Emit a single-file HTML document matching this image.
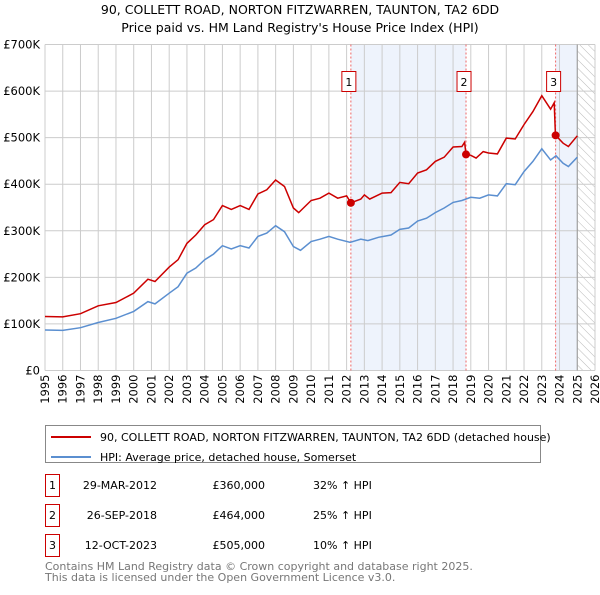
<!DOCTYPE html>
<html><head><meta charset="utf-8"><style>
body{margin:0;background:#fff;font-family:"Liberation Sans","DejaVu Sans",sans-serif;}
svg text{font-family:"DejaVu Sans","Liberation Sans",sans-serif;}
</style></head><body>
<svg id="c" width="600" height="590" xmlns="http://www.w3.org/2000/svg">
<defs><pattern id="hatch" width="6" height="6" patternUnits="userSpaceOnUse" patternTransform="rotate(-45)"><line x1="0" y1="0" x2="0" y2="6" stroke="#bbb" stroke-width="1"/></pattern></defs>
<text x="300" y="14" text-anchor="middle" font-size="12.5">90, COLLETT ROAD, NORTON FITZWARREN, TAUNTON, TA2 6DD</text>
<text x="300" y="32" text-anchor="middle" font-size="12.5">Price paid vs. HM Land Registry's House Price Index (HPI)</text>
<g id="plot"></g>
<g>
<rect x="45.5" y="425.5" width="495" height="37" fill="#fff" stroke="#888"/>
<line x1="51" y1="437" x2="91" y2="437" stroke="#cc0000" stroke-width="2"/>
<text x="100" y="441" font-size="11">90, COLLETT ROAD, NORTON FITZWARREN, TAUNTON, TA2 6DD (detached house)</text>
<line x1="51" y1="457" x2="91" y2="457" stroke="#5b8fd0" stroke-width="2"/>
<text x="100" y="461" font-size="11">HPI: Average price, detached house, Somerset</text>
</g>
<g id="tbl" font-size="11"></g>
<text x="45" y="570" font-size="11" fill="#777">Contains HM Land Registry data © Crown copyright and database right 2025.</text>
<text x="45" y="581" font-size="11" fill="#777">This data is licensed under the Open Government Licence v3.0.</text>
</svg>
<script>
const hpiYears=[1995,1996,1997,1998,1999,2000,2000.8,2001.2,2002,2002.5,2003,2003.5,2004,2004.5,2005,2005.5,2006,2006.5,2007,2007.5,2008,2008.5,2009,2009.4,2010,2010.5,2011,2011.5,2012.2,2012.8,2013.2,2013.8,2014.5,2015,2015.5,2016,2016.5,2017,2017.5,2018,2018.5,2019,2019.5,2020,2020.5,2021,2021.5,2022,2022.5,2023,2023.5,2023.8,2024.2,2024.5,2025];
const hpiValues=[87,86,92,103,112,127,148,143,166,180,209,220,238,250,268,261,268,263,288,295,311,298,266,258,277,282,288,282,275,282,279,286,291,303,306,321,327,339,349,361,365,372,370,377,375,401,399,427,449,476,452,461,445,438,458];
const priceYears=[1995,1996,1997,1998,1999,2000,2000.8,2001.2,2002,2002.5,2003,2003.5,2004,2004.5,2005,2005.5,2006,2006.5,2007,2007.5,2008,2008.5,2009,2009.3,2010,2010.5,2011,2011.5,2012,2012.24,2012.8,2013,2013.3,2014,2014.5,2015,2015.5,2016,2016.5,2017,2017.5,2018,2018.5,2018.65,2018.73,2019,2019.3,2019.7,2020,2020.5,2021,2021.5,2022,2022.5,2023,2023.5,2023.7,2023.76,2023.78,2024.2,2024.5,2025];
const priceValues=[116,115,122,139,146,166,196,191,222,238,273,291,313,324,354,346,354,346,379,388,409,395,349,339,365,370,381,370,375,360,368,377,368,381,382,404,401,424,431,449,458,480,481,490,464,462,456,470,467,465,499,497,528,556,590,561,575,513,505,488,481,504];
const saleYears=[2012.24,2018.73,2023.78];
const saleValues=[360,464,505];
const saleDates=["29-MAR-2012","26-SEP-2018","12-OCT-2023"];
const salePrices=["£360,000","£464,000","£505,000"];
const saleHpi=["32% ↑ HPI","25% ↑ HPI","10% ↑ HPI"];
const yTicks=[0,100,200,300,400,500,600,700];
const yTickLabels=["£0","£100K","£200K","£300K","£400K","£500K","£600K","£700K"];
const NS="http://www.w3.org/2000/svg";
const X0=45,X1=595,Y0=370.5,Y1=44.5;
const xs=y=>X0+(y-1995)/(2026-1995)*(X1-X0);
const ys=v=>Y0-v/700*(Y0-Y1);
const plot=document.getElementById('plot');
function mk(t,a,p){const e=document.createElementNS(NS,t);for(const k in a)e.setAttribute(k,a[k]);(p||plot).appendChild(e);return e;}
let r=mk('rect',{x:xs(saleYears[0]),y:Y1,width:xs(saleYears[1])-xs(saleYears[0]),height:Y0-Y1,fill:'#eef3fc'});


r=mk('rect',{x:xs(saleYears[2]),y:Y1,width:xs(2025)-xs(saleYears[2]),height:Y0-Y1,fill:'#eef3fc'});


r=mk('rect',{x:xs(2025),y:Y1,width:X1-xs(2025),height:Y0-Y1,fill:'url(#hatch)'});


for(let y=1995;y<=2026;y++){const l=mk('line',{x1:xs(y),x2:xs(y),y1:Y1,y2:Y0,stroke:'#ccc','stroke-width':1});


const t=mk('text',{x:0,y:0,'font-size':11.5,'text-anchor':'end',transform:`translate(${xs(y)+4},${Y0+4}) rotate(-90)`});t.textContent=y;

}
yTicks.forEach((v,i)=>{const l=mk('line',{x1:X0,x2:X1,y1:ys(v),y2:ys(v),stroke:'#ccc','stroke-width':1});


const t=mk('text',{x:40,y:ys(v)+4,'font-size':11.5,'text-anchor':'end'});t.textContent=yTickLabels[i];

});
mk('line',{x1:xs(2025),x2:xs(2025),y1:Y1,y2:Y0,stroke:'#999'});
saleYears.forEach((y,i)=>{const l=mk('line',{x1:xs(y),x2:xs(y),y1:Y1,y2:Y0,stroke:'#e66','stroke-width':1,'stroke-dasharray':'2,2'});

});
const pts=(a,b)=>a.map((y,i)=>xs(y).toFixed(1)+','+ys(b[i]).toFixed(1)).join(' ');
let p=mk('polyline',{points:pts(hpiYears,hpiValues),fill:'none',stroke:'#5b8fd0','stroke-width':1.5});


p=mk('polyline',{points:pts(priceYears,priceValues),fill:'none',stroke:'#cc0000','stroke-width':1.5});


saleYears.forEach((y,i)=>{const c=mk('circle',{cx:xs(y),cy:ys(saleValues[i]),r:4,fill:'#cc0000'});


const g=mk('g',{});


mk('rect',{x:xs(y)-9,y:71.5,width:14,height:20,fill:'#fff',stroke:'#cc0000'},g);
const t=mk('text',{x:xs(y)-2,y:86,'font-size':11,'text-anchor':'middle'},g);t.textContent=i+1;});
const tbl=document.getElementById('tbl');
saleDates.forEach((d,i)=>{const yy=484+i*30;const g=mk('g',{},tbl);


mk('rect',{x:45.5,y:yy-9.5,width:14,height:22,fill:'#fff',stroke:'#cc0000'},g);
let t=mk('text',{x:52.5,y:yy+5,'text-anchor':'middle'},g);t.textContent=i+1;
t=mk('text',{x:157,y:yy+5,'text-anchor':'end'},g);t.textContent=d;
t=mk('text',{x:265,y:yy+5,'text-anchor':'end'},g);t.textContent=salePrices[i];
t=mk('text',{x:313,y:yy+5},g);t.textContent=saleHpi[i];});
</script>
</body></html>
